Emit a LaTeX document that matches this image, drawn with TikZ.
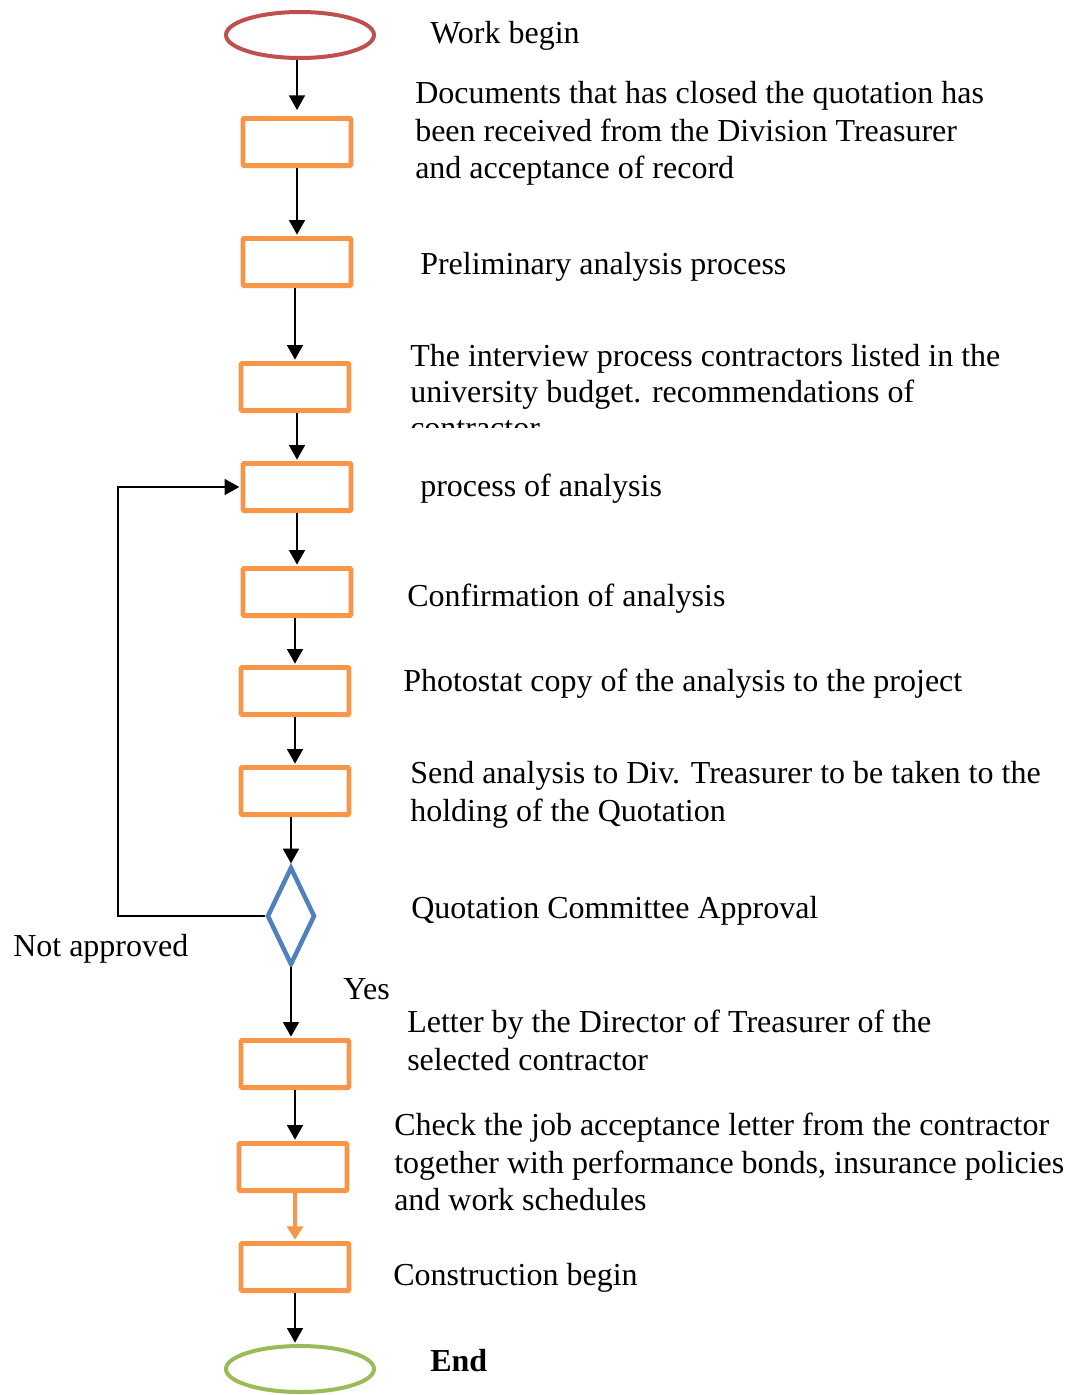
\documentclass[tikz,border=0pt]{standalone}
\usepackage{fontspec}
\setmainfont{Liberation Serif}
\usetikzlibrary{shapes.geometric,arrows.meta,calc}
\definecolor{cred}{HTML}{C0504D}
\definecolor{corange}{HTML}{F79646}
\definecolor{cblue}{HTML}{4F81BD}
\definecolor{cgreen}{HTML}{9BBB59}
\begin{document}
\begin{tikzpicture}[x=0.75pt,y=-0.75pt,
  box/.style={draw=corange, line width=3.6pt, minimum width=81pt, minimum height=35.4pt, inner sep=0pt, rounded corners=0.8pt},
  term/.style={ellipse, line width=3pt, minimum width=111pt, minimum height=34.5pt, inner sep=0pt},
  dec/.style={diamond, draw=cblue, line width=3.4pt, minimum width=36pt, minimum height=73.5pt, inner sep=0pt},
  arr/.style={line width=1.3pt, -{Triangle[width=12pt,length=11pt]}, shorten >=1pt},
  oarr/.style={draw=corange, line width=3.4pt, -{Triangle[width=12pt,length=10pt]}, shorten >=1pt},
  lbl/.style={anchor=base west, inner sep=0pt, font=\fontsize{24pt}{27.6pt}\selectfont}
]
\useasboundingbox (0,0) rectangle (1081,1395);
% shapes
\node[term, draw=cred] (s) at (300,35) {};
\node[box] (b1) at (297,142) {};
\node[box] (b2) at (297,262) {};
\node[box] (b3) at (295,387) {};
\node[box] (b4) at (297,487) {};
\node[box] (b5) at (297,592) {};
\node[box] (b6) at (295,691) {};
\node[box] (b7) at (295,791) {};
\node[dec] (d) at (291,916) {};
\node[box] (b8) at (295,1064) {};
\node[box] (b9) at (293,1167) {};
\node[box] (b10) at (295,1267) {};
\node[term, draw=cgreen] (e) at (300,1369) {};
% connectors
\draw[arr, shorten >=4.5pt] (s.south -| b1.north) -- (b1.north);
\draw[arr] (b1.south) -- (b2.north);
\draw[arr] (b2.south -| b3.north) -- (b3.north);
\draw[arr] (b3.south -| b4.north) -- (b4.north);
\draw[arr] (b4.south) -- (b5.north);
\draw[arr] (b5.south -| b6.north) -- (b6.north);
\draw[arr] (b6.south) -- (b7.north);
\draw[arr] (b7.south -| d.north) -- (d.north);
\draw[arr] (d.south) -- (d.south |- b8.north);
\draw[arr] (b8.south) -- (b8.south |- b9.north);
\draw[oarr] (b9.south -| b10.north) -- (b10.north);
\draw[arr] (b10.south) -- (b10.south |- e.north);
\coordinate (lc) at (118,916);
\draw[arr] (d.west) -- (lc) |- (b4.west);
% labels
\node[lbl] (t0) at (430,43.5) {Work begin};
\node[lbl] (t1a) at (415,103.5) {Documents that has closed the quotation has};
\node[lbl] (t1b) at (415,141) {been received from the Division Treasurer};
\node[lbl] (t1c) at (415,178.5) {and acceptance of record};
\node[lbl] (t2) at (420,274.5) {Preliminary analysis process};
\node[lbl] (t3a) at (410,366.5) {The interview process contractors listed in the};
\node[lbl] (t3b) at (410,402.5) {university budget. recommendations of};
\begin{scope}
\clip (400,410) rectangle (1060,427);
\node[lbl] (t3c) at (410,438.5) {contractor};
\end{scope}
\node[lbl] (t4) at (420,496.5) {process of analysis};
\node[lbl] (t5) at (407,606.5) {Confirmation of analysis};
\node[lbl] (t6) at (403,691.5) {Photostat copy of the analysis to the project};
\node[lbl] (t7a) at (410,783.5) {Send analysis to Div. Treasurer to be taken to the};
\node[lbl] (t7b) at (410,821.5) {holding of the Quotation};
\node[lbl] (t8) at (411,918.5) {Quotation Committee Approval};
\node[lbl] (tna) at (13,956.5) {Not approved};
\node[lbl] (tyes) at (343,999.5) {Yes};
\node[lbl] (t9a) at (407,1032.5) {Letter by the Director of Treasurer of the};
\node[lbl] (t9b) at (407,1070.5) {selected contractor};
\node[lbl] (t10a) at (394,1135.5) {Check the job acceptance letter from the contractor};
\node[lbl] (t10b) at (394,1173) {together with performance bonds, insurance policies};
\node[lbl] (t10c) at (394,1210.5) {and work schedules};
\node[lbl] (t11) at (393,1285.5) {Construction begin};
\node[lbl, font=\fontsize{24pt}{27.6pt}\selectfont\bfseries] (tend) at (430,1371.5) {End};
\end{tikzpicture}
\end{document}
